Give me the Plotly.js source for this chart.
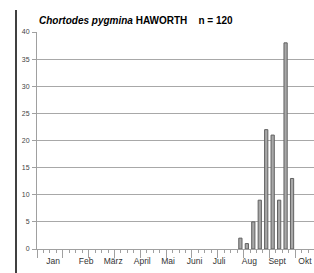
<!DOCTYPE html>
<html><head><meta charset="utf-8">
<script src="https://cdn.plot.ly/plotly-3.0.1.min.js"></script>
<style>html,body{margin:0;padding:0;background:#fff;overflow:hidden;width:314px;height:273px;}#c{width:314px;height:273px;overflow:hidden;}</style>
</head><body><div id="c"></div>
<script>
const weeks = [32, 33, 34, 35, 36, 37, 38, 39, 40];
const counts = [2, 1, 5, 9, 22, 21, 9, 38, 13];
const monthLabels = ["Jan", "Feb", "März", "April", "Mai", "Juni", "Juli", "Aug", "Sept", "Okt"];
const monthPos = [3.0, 8.1, 12.3, 16.8, 20.8, 24.9, 28.7, 33.4, 37.7, 42.0];
const yTicks = [0, 5, 10, 15, 20, 25, 30, 35, 40];

const trace = {
  type: 'bar', x: weeks, y: counts, width: 0.5,
  marker: {color: '#a8a8a8', line: {color: '#606060', width: 1}},
  hoverinfo: 'skip'
};
const layout = {
  width: 314, height: 273,
  margin: {l: 37, r: 0, t: 32, b: 24, pad: 0},
  paper_bgcolor: '#fff', plot_bgcolor: '#fff',
  showlegend: false,
  bargap: 0,
  title: {
    text: '<i>Chortodes pygmina</i> HAWORTH\u00a0\u00a0\u00a0 n = 120',
    font: {family: 'Liberation Sans, Arial, sans-serif', size: 10, color: '#000', weight: 'bold'},
    x: 39/314, xref: 'container', xanchor: 'left',
    y: 1 - 20/273, yref: 'container', yanchor: 'middle',
    automargin: false
  },
  xaxis: {
    range: [0.5, 43.4], showgrid: false, zeroline: false, automargin: false,
    showline: true, linecolor: '#a0a0a0', linewidth: 1,
    tickmode: 'linear', tick0: 0.5, dtick: 4,
    ticks: 'outside', ticklen: 8, tickcolor: '#a0a0a0', tickwidth: 1,
    showticklabels: false,
    minor: {tickmode: 'linear', tick0: 0.5, dtick: 1, ticks: 'outside', ticklen: 3, tickcolor: '#a0a0a0', tickwidth: 1, showgrid: false}
  },
  xaxis2: {
    overlaying: 'x', anchor: 'y', side: 'bottom', matches: 'x', automargin: false,
    range: [0.5, 43.4], showgrid: false, zeroline: false, showline: false,
    tickmode: 'array', tickvals: monthPos, ticktext: monthLabels,
    ticks: '', ticklen: 0,
    tickfont: {family: 'Liberation Sans, Arial, sans-serif', size: 8.5, color: '#333'},
    ticklabelstandoff: 5
  },
  yaxis: {
    range: [0, 40], tickmode: 'array', tickvals: yTicks, automargin: false,
    showgrid: true, gridcolor: '#a8a8a8', gridwidth: 1,
    zeroline: false, showline: true, linecolor: '#a0a0a0', linewidth: 1,
    ticks: 'outside', ticklen: 4, tickcolor: '#a0a0a0',
    tickfont: {family: 'Liberation Sans, Arial, sans-serif', size: 7, color: '#444'},
    ticklabelstandoff: 1
  },
  shapes: [{
    type: 'line', xref: 'paper', yref: 'paper',
    x0: (16 - 37) / 277, x1: (16 - 37) / 277,
    y0: (249 - 273) / 217, y1: (249 - 10) / 217,
    line: {color: '#000', width: 1.5}
  }]
};
const dummy = {type: 'scatter', x: [1], y: [0], xaxis: 'x2', mode: 'markers', marker: {opacity: 0}, hoverinfo: 'skip'};
Plotly.newPlot('c', [trace, dummy], layout, {displayModeBar: false, staticPlot: true});
</script></body></html>
